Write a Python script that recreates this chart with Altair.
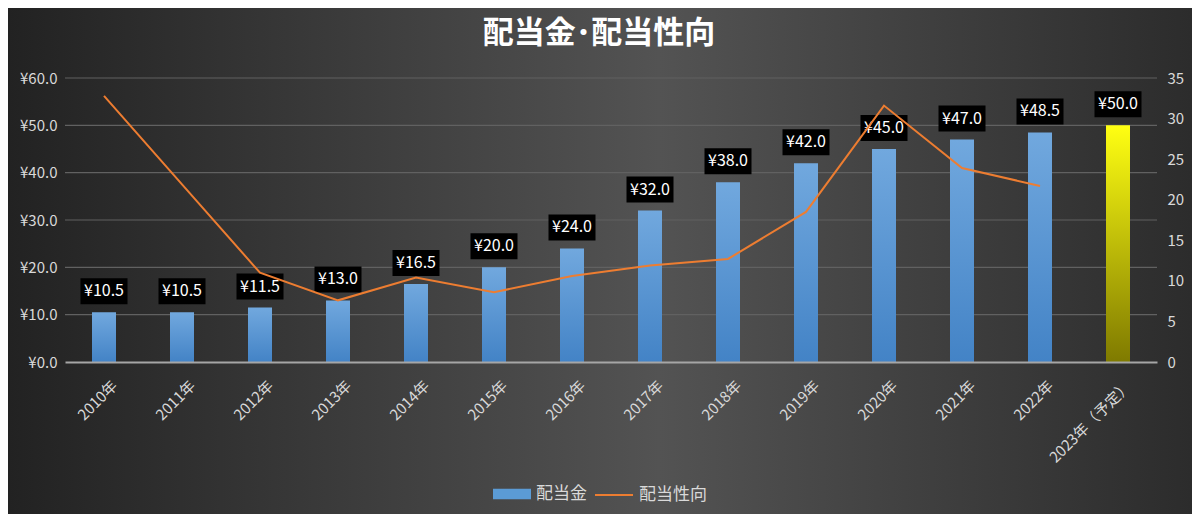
import altair as alt
import pandas as pd

years = ["2010年", "2011年", "2012年", "2013年", "2014年", "2015年", "2016年",
         "2017年", "2018年", "2019年", "2020年", "2021年", "2022年", "2023年（予定）"]
dividend = [10.5, 10.5, 11.5, 13.0, 16.5, 20.0, 24.0, 32.0, 38.0, 42.0, 45.0, 47.0, 48.5, 50.0]
payout = [32.8, 21.9, 11.0, 7.6, 10.4, 8.6, 10.6, 11.9, 12.7, 18.5, 31.6, 23.9, 21.7, None]
forecast = [False] * 13 + [True]

left_ticks = [0, 10, 20, 30, 40, 50, 60]
right_ticks = [0, 5, 10, 15, 20, 25, 30, 35]
title_text = "配当金･配当性向"

FONT = "Noto Sans CJK JP"
W, H = 1092, 284
PAD = {"left": 57, "top": 70, "right": 35, "bottom": 152}

df = pd.DataFrame({"year": years, "dividend": dividend, "payout": payout, "forecast": forecast})
grid_df = pd.DataFrame({"dividend": left_ticks[1:]})

xscale = alt.Scale(domain=years, paddingInner=0, paddingOuter=0)
yscale = alt.Scale(domain=[0, 60])

blue_grad = {"gradient": "linear", "x1": 0, "y1": 0, "x2": 0, "y2": 1,
             "stops": [{"offset": 0, "color": "#71a8de"}, {"offset": 1, "color": "#4383c6"}]}
yellow_grad = {"gradient": "linear", "x1": 0, "y1": 0, "x2": 0, "y2": 1,
               "stops": [{"offset": 0, "color": "#ffff12"}, {"offset": 1, "color": "#7f7a00"}]}
bg_grad = {"gradient": "linear", "x1": 0, "y1": 0, "x2": 1, "y2": 0,
           "stops": [{"offset": 0, "color": "#222222"},
                     {"offset": 0.55, "color": "#535353"},
                     {"offset": 1, "color": "#2c2c2c"}]}

bg = alt.Chart(pd.DataFrame({"a": [0]})).mark_rect(fill=bg_grad).encode(
    x=alt.value(-PAD["left"]), x2=alt.value(W + PAD["right"]),
    y=alt.value(-PAD["top"]), y2=alt.value(H + PAD["bottom"]),
)

title_df = pd.DataFrame({"t": [title_text]})
title = alt.Chart(title_df).mark_text(
    font=FONT, fontSize=31, fontWeight="bold", color="#ffffff", align="center", baseline="middle"
).encode(x=alt.value(W / 2 - 12), y=alt.value(-44), text="t:N")

base = alt.Chart(df)

x_axis = alt.Axis(labelAngle=-45, labelColor="#d9d9d9", labelFontSize=15, labelFont=FONT,
                  ticks=False, domain=True, domainColor="#a6a6a6", domainWidth=2,
                  labelPadding=16, labelOffset=6, grid=False, zindex=1, title=None)
x_enc = alt.X("year:N", scale=xscale, sort=years, title=None, axis=x_axis)

y_axis = alt.Axis(values=left_ticks, labelExpr="'¥' + format(datum.value, '.1f')",
                  labelColor="#d9d9d9", labelFontSize=15, labelFont=FONT,
                  grid=False, domain=False, ticks=False, labelPadding=8, zindex=1, title=None)
y_left = alt.Y("dividend:Q", scale=yscale, title=None, axis=y_axis)

grid = alt.Chart(grid_df).mark_rule(color="#616161", strokeWidth=1.2).encode(
    y=y_left, x=alt.value(0), x2=alt.value(W))

bars_blue = base.transform_filter("!datum.forecast").mark_bar(width=24, fill=blue_grad).encode(
    x=x_enc, y=y_left)
bars_yellow = base.transform_filter("datum.forecast").mark_bar(width=24, fill=yellow_grad).encode(
    x=x_enc, y=y_left)

boxes = base.mark_point(shape="M-1,-0.553H1V0.553H-1Z", size=2209, filled=True, fill="#000000",
                        opacity=1, strokeWidth=0, yOffset=-21).encode(x=x_enc, y=y_left)
labels = base.transform_calculate(lab="'¥' + format(datum.dividend, '.1f')").mark_text(
    color="#ffffff", font=FONT, fontSize=16, baseline="middle", align="center", yOffset=-21
).encode(x=x_enc, y=y_left, text="lab:N")

left_group = alt.layer(grid, bars_blue, bars_yellow, boxes, labels)

line = base.transform_filter("datum.payout != null").transform_calculate(s="'配当性向'").mark_line(
    strokeWidth=2).encode(
    x=x_enc,
    y=alt.Y("payout:Q", scale=alt.Scale(domain=[0, 35]), title=None,
            axis=alt.Axis(values=right_ticks, orient="right", labelColor="#d9d9d9", labelFontSize=15,
                          labelFont=FONT, grid=False, domain=False, ticks=False, labelPadding=10,
                          zindex=1, title=None)),
    stroke=alt.Stroke("s:N", scale=alt.Scale(domain=["配当性向"], range=["#ed7d31"]),
                      legend=alt.Legend(title=None, orient="none", legendX=529, legendY=397,
                                        symbolType="stroke", symbolSize=1444, symbolStrokeWidth=2,
                                        labelColor="#d9d9d9", labelFontSize=17, labelFont=FONT,
                                        labelOffset=5, padding=0)),
)

dummy = alt.Chart(pd.DataFrame({"s": ["配当金"]})).mark_square(size=0, opacity=0).encode(
    fill=alt.Fill("s:N", scale=alt.Scale(domain=["配当金"], range=["#5b9bd5"]),
                  legend=alt.Legend(title=None, orient="none", legendX=428, legendY=397,
                                    symbolType="M-1,-0.27H1V0.27H-1Z", symbolSize=1444,
                                    symbolOpacity=1, symbolStrokeWidth=0,
                                    labelColor="#d9d9d9", labelFontSize=17, labelFont=FONT,
                                    labelOffset=5, padding=0)),
)

chart = alt.layer(bg, title, left_group, line, dummy).resolve_scale(
    y="independent", fill="independent", stroke="independent"
).properties(
    width=W, height=H,
    padding=PAD,
    autosize=alt.AutoSizeParams(type="none"),
    background="#3a3a3a",
).configure_view(stroke=None)

chart.save("out.html", embed_options={"renderer": "svg", "actions": False})
